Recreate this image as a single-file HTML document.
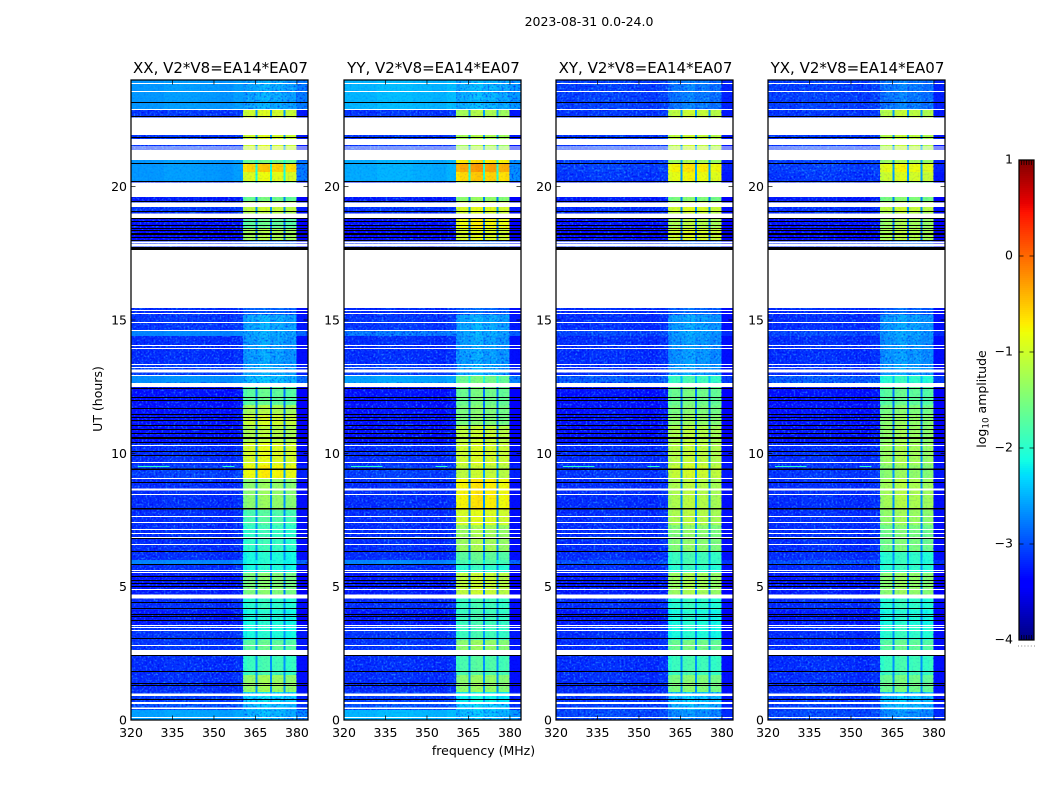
<!DOCTYPE html>
<html lang="en">
<head>
<meta charset="utf-8">
<title>2023-08-31 0.0-24.0</title>
<style>
html,body{margin:0;padding:0;background:#fff;}
svg{display:block;}
text{font-family:"DejaVu Sans","Liberation Sans",sans-serif;fill:#000;}
</style>
</head>
<body>
<svg id="figure" xmlns="http://www.w3.org/2000/svg" width="1050" height="800" viewBox="0 0 1050 800">
  <defs>
    <filter id="speckle-light" x="0" y="0" width="100%" height="100%">
      <feTurbulence type="fractalNoise" baseFrequency="0.5" numOctaves="1" seed="4"/>
      <feColorMatrix type="matrix" values="0 0 0 0 0.05  0 0 0 0 0.6  0 0 0 0 1  3 0 0 0 -1.4"/>
    </filter>
    <filter id="speckle-dark" x="0" y="0" width="100%" height="100%">
      <feTurbulence type="fractalNoise" baseFrequency="0.5" numOctaves="1" seed="11"/>
      <feColorMatrix type="matrix" values="0 0 0 0 0  0 0 0 0 0  0 0 0 0 0.85  3 0 0 0 -1.4"/>
    </filter>
  </defs>
  <text x="589" y="26" font-size="12.5" text-anchor="middle">2023-08-31 0.0-24.0</text>
  <text x="483.5" y="755" font-size="12.5" text-anchor="middle">frequency (MHz)</text>
  <text x="0" y="0" font-size="12.5" text-anchor="middle" transform="translate(102,399) rotate(-90)">UT (hours)</text>
  <text x="0" y="0" font-size="12.5" text-anchor="middle" transform="translate(986,399) rotate(-90)">log<tspan font-size="8.8" dy="2.5">10</tspan><tspan dy="-2.5"> amplitude</tspan></text>
  <g id="panels"></g>
  <g id="colorbar"></g>
</svg>
<script>
// ---- Axis values ----
const panelTitles = ["XX, V2*V8=EA14*EA07", "YY, V2*V8=EA14*EA07", "XY, V2*V8=EA14*EA07", "YX, V2*V8=EA14*EA07"];
const xTickValues = [320, 335, 350, 365, 380];
const yTickValues = [0, 5, 10, 15, 20];
const colorbarTickValues = [1, 0, -1, -2, -3, -4];

// ---- Time blocks (UT hours, descending) ----
const blockEdges = [24, 22.875, 21, 20.85, 20.55, 20.175, 19.46, 19.05, 18.825, 18.45, 18, 15.19, 14.59, 14.4, 13.31, 12.9, 12.64, 11.81, 11.44, 11.06, 10.39, 9.56, 9.075, 7.875, 7.31, 6.3, 6, 5.85, 5.55, 4.69, 4.125, 3.56, 3, 2.44, 1.69, 1.05, 0.675, 0.375, 0];

// ---- log10 amplitude per block: outside the 360-380 MHz band, and inside it ----
const xxOff = [-2.65, -3.15, -2.65, -2.65, -2.65, -3.3, -3.15, -3.2, -3.35, -3.4, -3.2, -3.15, -2.75, -3.2, -3.1, -2.7, -3.35, -3.35, -3.35, -3.35, -3.2, -3.1, -3.2, -3.2, -3.2, -3.2, -2.75, -3.2, -3.3, -3.2, -3.3, -3.15, -3.15, -3.2, -3.2, -3.1, -3.0, -2.6];
const xxBand = [-2.55, -1.0, -1.6, -0.6, -0.9, -1.6, -1.1, -1.2, -1.7, -1.25, -2.9, -2.55, -2.55, -2.6, -2.55, -2.45, -1.7, -1.25, -1.05, -1.2, -0.95, -0.8, -1.4, -1.8, -1.95, -2.1, -2.1, -2.1, -1.5, -2.0, -2.1, -2.1, -1.7, -1.9, -1.35, -2.3, -2.45, -2.5];
const yyOff = [-2.5, -3.15, -2.55, -2.55, -2.55, -3.3, -3.15, -3.2, -3.35, -3.4, -3.2, -3.15, -2.8, -3.2, -3.1, -2.6, -3.35, -3.35, -3.35, -3.35, -3.2, -3.1, -3.2, -3.2, -3.2, -3.2, -2.75, -3.2, -3.3, -3.2, -3.3, -3.15, -3.15, -3.2, -3.2, -3.1, -3.0, -2.5];
const yyBand = [-2.5, -1.25, -0.7, -0.35, -0.6, -1.4, -0.95, -1.0, -0.8, -0.95, -2.9, -2.55, -2.55, -2.6, -2.55, -1.6, -1.6, -1.5, -1.5, -1.1, -1.0, -1.1, -0.75, -0.95, -1.3, -1.7, -1.8, -2.0, -1.1, -1.9, -1.9, -1.9, -1.4, -1.8, -1.4, -2.2, -2.35, -2.45];
const xyOff = [-3.1, -3.15, -3.1, -3.1, -3.15, -3.3, -3.2, -3.2, -3.35, -3.4, -3.2, -3.2, -3.05, -3.2, -3.2, -2.95, -3.35, -3.35, -3.35, -3.35, -3.2, -3.15, -3.2, -3.2, -3.2, -3.2, -3.0, -3.2, -3.3, -3.2, -3.3, -3.2, -3.2, -3.2, -3.2, -3.15, -3.1, -3.05];
const xyBand = [-2.8, -1.1, -1.3, -0.75, -0.85, -1.5, -1.0, -1.1, -1.2, -1.0, -2.9, -2.6, -2.6, -2.65, -2.6, -1.9, -1.6, -1.5, -1.4, -1.2, -1.15, -1.05, -1.2, -1.2, -1.45, -1.9, -1.9, -2.0, -1.3, -2.0, -2.1, -2.1, -1.6, -1.9, -1.5, -2.4, -2.5, -2.7];
const yxOff = [-3.1, -3.15, -3.1, -3.1, -3.15, -3.3, -3.2, -3.2, -3.35, -3.4, -3.2, -3.2, -3.05, -3.2, -3.2, -2.95, -3.35, -3.35, -3.35, -3.35, -3.2, -3.15, -3.2, -3.2, -3.2, -3.2, -3.0, -3.2, -3.3, -3.2, -3.3, -3.2, -3.2, -3.2, -3.2, -3.15, -3.1, -3.05];
const yxBand = [-2.8, -1.15, -1.3, -0.85, -1.0, -1.5, -1.1, -1.2, -1.3, -1.2, -2.9, -2.6, -2.6, -2.65, -2.6, -2.0, -1.7, -1.5, -1.4, -1.35, -1.3, -1.4, -1.25, -1.35, -1.55, -2.0, -2.0, -2.0, -1.4, -2.0, -2.1, -2.0, -1.7, -1.9, -1.6, -2.4, -2.5, -2.7];

// ---- Frequency channels (MHz) ----
const channelEdges = [320, 332, 345, 352, 357, 360.5, 362, 365, 365.7, 367.5, 370.2, 370.9, 372.5, 375.1, 375.8, 378, 379.8, 384];
const channelKinds = ["off", "off", "off", "off", "off", "band", "band", "gap", "band", "band", "gap", "band", "band", "gap", "band", "band", "off"];
const channelGains = [0.02, 0.06, 0.03, 0.0, 0.06, -0.08, 0.0, 0.55, 0.06, 0.1, 0.55, 0.0, 0.04, 0.55, -0.06, -0.02, -0.1];

// ---- Flagged / missing integrations, shared by all panels (hours) ----
const whiteLineHours = [23.88, 23.58, 22.91, 15.34, 15.26, 14.89, 14.61, 14.04, 13.95, 13.32, 13.21, 12.91, 10.30, 9.66, 9.05, 8.44, 7.62, 7.40, 7.14, 7.00, 6.85, 6.59, 5.59, 5.52, 4.88, 3.56, 3.48, 3.36, 2.78, 0.08];
const blackLineHours = [23.16, 22.63, 21.83, 20.87, 20.18, 19.46, 19.06, 18.79, 18.68, 18.53, 18.45, 18.34, 18.26, 18.19, 18.09, 18.0, 12.43, 12.08, 12.0, 11.7, 11.44, 11.36, 11.25, 11.03, 10.88, 10.76, 10.61, 10.54, 10.41, 10.07, 9.91, 8.91, 6.79, 6.31, 5.84, 5.39, 5.25, 5.13, 5.0, 4.40, 4.2, 3.96, 3.87, 3.75, 3.04, 2.43, 1.81, 1.38, 1.29, 0.78];
const whiteBandStarts = [22.59, 21.79, 21.51, 21.43, 21.375, 20.155, 19.4, 19.0, 17.94, 17.85, 17.625, 13.14, 12.64, 8.68, 4.70, 2.625, 0.99, 0.675, 0.474];
const whiteBandEnds = [21.94, 21.56, 21.47, 21.39, 21.0, 19.61, 19.24, 18.825, 17.87, 17.75, 15.45, 13.04, 12.48, 8.6, 4.55, 2.44, 0.90, 0.6, 0.41];
const blackBandStarts = [17.74, 9.43, 7.95];
const blackBandEnds = [17.625, 9.375, 7.9];

// ---- Narrow-band interference streaks ----
const rfiHours = [9.53, 9.53];
const rfiStartMHz = [322.5, 353];
const rfiEndMHz = [334, 357.5];
const rfiLevels = [-2.0, -2.0];

const panelLefts = [131, 344, 556, 768];
const panelOffLevels = [xxOff, yyOff, xyOff, yxOff];
const panelBandLevels = [xxBand, yyBand, xyBand, yxBand];

const NS = "http://www.w3.org/2000/svg";
const plotTop = 80, plotBottom = 720, plotWidth = 177;
const xMin = 320, xMax = 384, hMin = 0, hMax = 24;
const cbarLeft = 1019, cbarWidth = 15, cbarTop = 160, cbarBottom = 640, cbarMin = -4, cbarMax = 1;

function xScale(mhz, left) { return left + (mhz - xMin) / (xMax - xMin) * plotWidth; }
function yScale(h) { return plotBottom - (h - hMin) / (hMax - hMin) * (plotBottom - plotTop); }
function cbarScale(v) { return cbarBottom - (v - cbarMin) / (cbarMax - cbarMin) * (cbarBottom - cbarTop); }

function ramp(t, a, b) { return Math.max(0, Math.min(1, (t - a) / (b - a))); }
function jet(v) {
  const t = Math.max(0, Math.min(1, (v - cbarMin) / (cbarMax - cbarMin)));
  const r = t < 0.89 ? ramp(t, 0.35, 0.66) : 1 - 0.5 * ramp(t, 0.89, 1);
  const g = t < 0.5 ? ramp(t, 0.125, 0.375) : 1 - ramp(t, 0.64, 0.91);
  const b = t < 0.2 ? 0.5 + 0.5 * ramp(t, 0, 0.11) : 1 - ramp(t, 0.34, 0.65);
  return "rgb(" + Math.round(r * 255) + "," + Math.round(g * 255) + "," + Math.round(b * 255) + ")";
}
function mk(parent, tag, attrs) {
  const el = document.createElementNS(NS, tag);
  for (const k in attrs) el.setAttribute(k, attrs[k]);
  parent.appendChild(el);
  return el;
}

const panelsRoot = document.getElementById("panels");
panelTitles.forEach(function (title, p) {
  const left = panelLefts[p];
  const g = mk(panelsRoot, "g", {});
  
  

  // heatmap cells
  const cells = mk(g, "g", { "shape-rendering": "crispEdges" });
  
  
  for (let b = 0; b < blockEdges.length - 1; b++) {
    const y0 = yScale(blockEdges[b]), y1 = yScale(blockEdges[b + 1]);
    const off = panelOffLevels[p][b], band = panelBandLevels[p][b];
    for (let c = 0; c < channelKinds.length; c++) {
      const kind = channelKinds[c];
      let level = off + channelGains[c];
      if (kind === "band") level = band + channelGains[c];
      if (kind === "gap") level = Math.min(off + channelGains[c], band);
      const x0 = xScale(channelEdges[c], left), x1 = xScale(channelEdges[c + 1], left);
      const cell = mk(cells, "rect", { x: x0, y: y0, width: x1 - x0, height: y1 - y0, fill: jet(level) });
      
      
    }
  }

  // receiver noise texture: weaker in the bright, smooth blocks
  const bandX0 = xScale(channelEdges[5], left), bandX1 = xScale(channelEdges[16], left);
  const plotRight = left + plotWidth;
  for (let b = 0; b < blockEdges.length - 1; b++) {
    const y0 = yScale(blockEdges[b]), y1 = yScale(blockEdges[b + 1]);
    const bright = panelOffLevels[p][b] > -2.8;
    const faint = panelBandLevels[p][b] < -2.2;
    const offLight = mk(g, "rect", { x: left, y: y0, width: bandX0 - left, height: y1 - y0, filter: "url(#speckle-light)", opacity: bright ? 0.12 : 0.5 });
    
    
    const offDark = mk(g, "rect", { x: left, y: y0, width: bandX0 - left, height: y1 - y0, filter: "url(#speckle-dark)", opacity: bright ? 0.12 : 0.7 });
    
    
    const rightDark = mk(g, "rect", { x: bandX1, y: y0, width: plotRight - bandX1, height: y1 - y0, filter: "url(#speckle-dark)", opacity: 0.6 });
    
    
    const bandDark = mk(g, "rect", { x: bandX0, y: y0, width: bandX1 - bandX0, height: y1 - y0, filter: "url(#speckle-dark)", opacity: faint ? 0.5 : 0.1 });
    
    
    if (faint) {
      const bandLight = mk(g, "rect", { x: bandX0, y: y0, width: bandX1 - bandX0, height: y1 - y0, filter: "url(#speckle-light)", opacity: 0.5 });
      
      
    }
  }

  // interference streaks
  rfiHours.forEach(function (h, i) {
    const x0 = xScale(rfiStartMHz[i], left), x1 = xScale(rfiEndMHz[i], left);
    const streak = mk(g, "rect", { x: x0, y: Math.round(yScale(h)), width: x1 - x0, height: 1, fill: jet(rfiLevels[i]), "shape-rendering": "crispEdges" });
    
    
  });

  // flagged integrations
  const flags = mk(g, "g", { "shape-rendering": "crispEdges" });
  
  
  whiteBandStarts.forEach(function (h, i) {
    const r = mk(flags, "rect", { x: left, y: yScale(h), width: plotWidth, height: yScale(whiteBandEnds[i]) - yScale(h), fill: "#fff" });
    
    
  });
  blackBandStarts.forEach(function (h, i) {
    const r = mk(flags, "rect", { x: left, y: yScale(h), width: plotWidth, height: yScale(blackBandEnds[i]) - yScale(h), fill: "#000" });
    
    
  });
  whiteLineHours.forEach(function (h) {
    const r = mk(flags, "rect", { x: left, y: Math.round(yScale(h) - 0.5), width: plotWidth, height: 1, fill: "#fff" });
    
    
  });
  blackLineHours.forEach(function (h) {
    const r = mk(flags, "rect", { x: left, y: Math.round(yScale(h) - 0.5), width: plotWidth, height: 1, fill: "#000" });
    
    
  });

  // frame
  const frame = mk(g, "rect", { x: left, y: plotTop, width: plotWidth, height: plotBottom - plotTop, fill: "none", stroke: "#000", "stroke-width": 1.25 });
  
  

  // title
  const ttl = mk(g, "text", { x: left + plotWidth / 2 + 1, y: 73, "font-size": 15, "text-anchor": "middle" });
  ttl.textContent = title;
  
  

  // ticks
  xTickValues.forEach(function (v) {
    const x = xScale(v, left);
    const t1 = mk(g, "line", { x1: x, x2: x, y1: plotBottom, y2: plotBottom - 4.5, stroke: "#000", "stroke-width": 0.7 });
    
    
    const t2 = mk(g, "line", { x1: x, x2: x, y1: plotTop, y2: plotTop + 4.5, stroke: "#000", "stroke-width": 0.7 });
    
    
    const lab = mk(g, "text", { x: x, y: 737, "font-size": 12.5, "text-anchor": "middle" });
    lab.textContent = String(v);
    
    
  });
  yTickValues.forEach(function (v) {
    const y = yScale(v);
    const t1 = mk(g, "line", { x1: left, x2: left + 4.5, y1: y, y2: y, stroke: "#000", "stroke-width": 0.7 });
    
    
    const t2 = mk(g, "line", { x1: left + plotWidth, x2: left + plotWidth - 4.5, y1: y, y2: y, stroke: "#000", "stroke-width": 0.7 });
    
    
    const lab = mk(g, "text", { x: left - 4, y: y + 4.5, "font-size": 12.5, "text-anchor": "end" });
    lab.textContent = String(v);
    
    
  });
});

// ---- Colorbar ----
const cbarRoot = document.getElementById("colorbar");
const cbarFill = mk(cbarRoot, "g", { "shape-rendering": "crispEdges" });


for (let y = cbarTop; y < cbarBottom; y += 2) {
  const v = cbarMax - (y + 1 - cbarTop) / (cbarBottom - cbarTop) * (cbarMax - cbarMin);
  const s = mk(cbarFill, "rect", { x: cbarLeft, y: y, width: cbarWidth, height: 2, fill: jet(v) });
  
  
}
const cbarFrame = mk(cbarRoot, "rect", { x: cbarLeft, y: cbarTop, width: cbarWidth, height: cbarBottom - cbarTop, fill: "none", stroke: "#000", "stroke-width": 1.25 });


colorbarTickValues.forEach(function (v) {
  const y = cbarScale(v);
  const atEnd = v === cbarMax || v === cbarMin;
  if (atEnd) {
    for (let k = 1; k < 6; k++) {
      const x = cbarLeft + k * cbarWidth / 6;
      const dir = v === cbarMax ? 1 : -1;
      const t = mk(cbarRoot, "line", { x1: x, x2: x, y1: y, y2: y + dir * 5, stroke: "#000", "stroke-width": 0.7 });
      
      
    }
  } else {
    const t1 = mk(cbarRoot, "line", { x1: cbarLeft, x2: cbarLeft + 4.5, y1: y, y2: y, stroke: "#000", "stroke-width": 0.7 });
    
    
    const t2 = mk(cbarRoot, "line", { x1: cbarLeft + cbarWidth, x2: cbarLeft + cbarWidth - 4.5, y1: y, y2: y, stroke: "#000", "stroke-width": 0.7 });
    
    
  }
  const lab = mk(cbarRoot, "text", { x: 1013, y: y + 3.5, "font-size": 12.5, "text-anchor": "end" });
  lab.textContent = v < 0 ? "\u2212" + Math.abs(v) : String(v);
  
  
});
for (let k = 0; k < 6; k++) {
  const d = mk(cbarRoot, "rect", { x: 1018 + k * 3.2, y: 645.5, width: 1, height: 1, fill: "#888" });
  
  
}
</script>
</body>
</html>
